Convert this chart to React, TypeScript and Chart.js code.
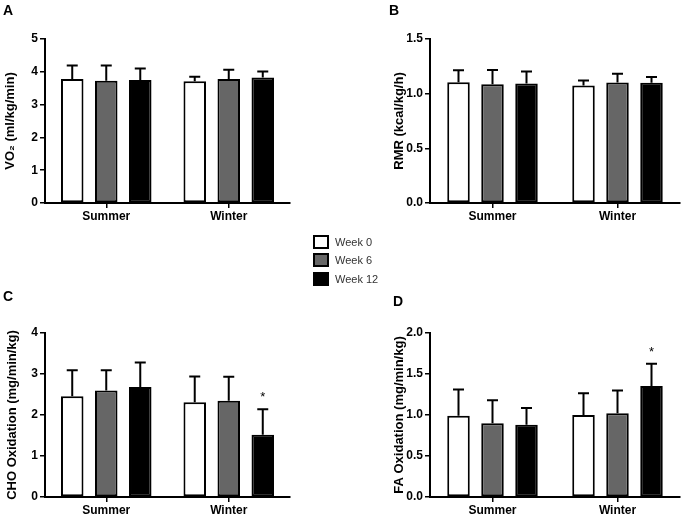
import React, { useEffect, useRef } from "react";
import { Chart, registerables } from "chart.js";

Chart.register(...registerables);

// ---------- data ----------
const categories = ["Summer", "Winter"];
const seriesNames = ["Week 0", "Week 6", "Week 12"];
const seriesColors = ["#ffffff", "#666666", "#000000"];

// Panel A: VO2 (ml/kg/min)
const vo2Week0 = [3.78, 3.71];
const vo2Week6 = [3.73, 3.78];
const vo2Week12 = [3.75, 3.83];
const vo2ErrWeek0 = [0.41, 0.14];
const vo2ErrWeek6 = [0.46, 0.28];
const vo2ErrWeek12 = [0.35, 0.18];

// Panel B: RMR (kcal/kg/h)
const rmrWeek0 = [1.105, 1.075];
const rmrWeek6 = [1.087, 1.102];
const rmrWeek12 = [1.093, 1.099];
const rmrErrWeek0 = [0.11, 0.045];
const rmrErrWeek6 = [0.13, 0.08];
const rmrErrWeek12 = [0.11, 0.053];

// Panel C: CHO Oxidation (mg/min/kg)
const choWeek0 = [2.46, 2.31];
const choWeek6 = [2.6, 2.35];
const choWeek12 = [2.68, 1.52];
const choErrWeek0 = [0.63, 0.63];
const choErrWeek6 = [0.49, 0.58];
const choErrWeek12 = [0.6, 0.62];
const choStarsWeek12 = [false, true];

// Panel D: FA Oxidation (mg/min/kg)
const faWeek0 = [0.99, 1.0];
const faWeek6 = [0.9, 1.02];
const faWeek12 = [0.88, 1.355];
const faErrWeek0 = [0.32, 0.265];
const faErrWeek6 = [0.28, 0.28];
const faErrWeek12 = [0.205, 0.27];
const faStarsWeek12 = [false, true];

const noStars = [false, false];

const FONT = 'Arial, "Liberation Sans", Helvetica, sans-serif';

// ---------- plugins ----------
const errorBarPlugin = {
  id: "errorBars",
  afterDatasetsDraw(chart: any) {
    const { ctx } = chart;
    const yScale = chart.scales.y;
    chart.data.datasets.forEach((ds: any, di: number) => {
      const meta = chart.getDatasetMeta(di);
      meta.data.forEach((bar: any, i: number) => {
        const v = ds.data[i];
        const e = ds.errors[i];
        const x = bar.x;
        const y0 = yScale.getPixelForValue(v);
        const y1 = yScale.getPixelForValue(v + e);
        ctx.save();
        ctx.strokeStyle = "#000";
        ctx.lineWidth = 2;
        ctx.beginPath();
        ctx.moveTo(x, y0);
        ctx.lineTo(x, y1);
        ctx.moveTo(x - 5.5, y1);
        ctx.lineTo(x + 5.5, y1);
        ctx.stroke();
        if (ds.stars && ds.stars[i]) {
          ctx.fillStyle = "#000";
          ctx.font = `13px ${FONT}`;
          ctx.textAlign = "center";
          ctx.textBaseline = "alphabetic";
          ctx.fillText("*", x, y1 - 8);
        }
        ctx.restore();
      });
    });
  },
};

const makeLetterPlugin = (text: string, x: number, y: number) => ({
  id: "panelLetter",
  afterDraw(chart: any) {
    const { ctx } = chart;
    ctx.save();
    ctx.fillStyle = "#000";
    ctx.font = `bold 14px ${FONT}`;
    ctx.textAlign = "left";
    ctx.textBaseline = "alphabetic";
    ctx.fillText(text, x, y);
    ctx.restore();
  },
});

type PanelProps = {
  left: number;
  top: number;
  width: number;
  height: number;
  areaLeft: number;
  areaRight: number;
  areaTop: number;
  areaBottom: number;
  titlePad: number;
  letter: string;
  letterX: number;
  letterY: number;
  yTitle: string;
  yMax: number;
  yStep: number;
  decimals: number;
  catPct: number;
  values: number[][];
  errors: number[][];
  stars: boolean[][];
};

function Panel(p: PanelProps) {
  const ref = useRef<HTMLCanvasElement | null>(null);
  useEffect(() => {
    if (!ref.current) return;
    const chart = new Chart(ref.current, {
      type: "bar",
      data: {
        labels: categories,
        datasets: seriesNames.map((name, k) => ({
          label: name,
          data: p.values[k],
          errors: p.errors[k],
          stars: p.stars[k],
          backgroundColor: seriesColors[k],
          borderColor: "#000",
          borderWidth: 2,
          borderSkipped: false,
          categoryPercentage: p.catPct,
          barPercentage: 0.662,
        })) as any,
      },
      options: {
        animation: false,
        responsive: false,
        devicePixelRatio: 1,
        layout: {
          padding: {
            top: p.areaTop,
            right: p.width - p.areaRight,
            left: 0,
            bottom: 0,
          },
        },
        plugins: {
          legend: { display: false },
          tooltip: { enabled: false },
        },
        scales: {
          x: {
            type: "category",
            offset: true,
            grid: {
              display: true,
              drawOnChartArea: false,
              drawTicks: true,
              tickLength: 5,
              offset: false,
              color: "#000",
              lineWidth: 1.5,
            },
            border: { display: true, color: "#000", width: 2 },
            ticks: {
              color: "#000",
              padding: 1,
              font: { family: FONT, size: 12, weight: "bold" },
              maxRotation: 0,
            },
            afterFit: (scale: any) => {
              scale.height = p.height - p.areaBottom;
            },
          },
          y: {
            min: 0,
            max: p.yMax,
            grid: {
              display: true,
              drawOnChartArea: false,
              drawTicks: true,
              tickLength: 5,
              color: "#000",
              lineWidth: 1.5,
            },
            border: { display: true, color: "#000", width: 2 },
            ticks: {
              stepSize: p.yStep,
              color: "#000",
              padding: 2,
              font: { family: FONT, size: 12, weight: "bold" },
              callback: (v: any) => Number(v).toFixed(p.decimals),
            },
            title: {
              display: true,
              text: p.yTitle,
              color: "#000",
              font: { family: FONT, size: 13, weight: "bold" },
              padding: { top: p.titlePad, bottom: 0 },
            },
            afterFit: (scale: any) => {
              scale.width = p.areaLeft;
            },
          },
        },
      } as any,
      plugins: [errorBarPlugin, makeLetterPlugin(p.letter, p.letterX, p.letterY)],
    });
    return () => chart.destroy();
  }, []);
  return (
    <canvas
      ref={ref}
      width={p.width}
      height={p.height}
      style={{
        position: "absolute",
        left: p.left,
        top: p.top,
        width: p.width,
        height: p.height,
        display: "block",
      }}
    />
  );
}

function LegendBox({ color, label, top }: { color: string; label: string; top: number }) {
  return (
    <div style={{ position: "absolute", left: 313, top, height: 14, display: "flex", alignItems: "center" }}>
      <div
        style={{
          width: 16,
          height: 14,
          boxSizing: "border-box",
          border: "2px solid #000",
          background: color,
        }}
      />
      <span
        style={{
          marginLeft: 6,
          fontFamily: FONT,
          fontSize: 11,
          color: "#333",
          lineHeight: "14px",
          whiteSpace: "nowrap",
        }}
      >
        {label}
      </span>
    </div>
  );
}

export default function App() {
  return (
    <div
      style={{
        position: "absolute",
        left: 0,
        top: 0,
        width: 686,
        height: 517,
        background: "#fff",
        overflow: "hidden",
      }}
    >
      <Panel
        left={0}
        top={0}
        width={343}
        height={230}
        areaLeft={45}
        areaRight={290}
        areaTop={39}
        areaBottom={203}
        titlePad={3}
        letter="A"
        letterX={3}
        letterY={15}
        yTitle="VO₂ (ml/kg/min)"
        yMax={5}
        yStep={1}
        decimals={0}
        catPct={0.833}
        values={[vo2Week0, vo2Week6, vo2Week12]}
        errors={[vo2ErrWeek0, vo2ErrWeek6, vo2ErrWeek12]}
        stars={[noStars, noStars, noStars]}
      />
      <Panel
        left={343}
        top={0}
        width={343}
        height={230}
        areaLeft={87}
        areaRight={337}
        areaTop={39}
        areaBottom={203}
        titlePad={49}
        letter="B"
        letterX={46}
        letterY={15}
        yTitle="RMR (kcal/kg/h)"
        yMax={1.5}
        yStep={0.5}
        decimals={1}
        catPct={0.816}
        values={[rmrWeek0, rmrWeek6, rmrWeek12]}
        errors={[rmrErrWeek0, rmrErrWeek6, rmrErrWeek12]}
        stars={[noStars, noStars, noStars]}
      />
      <Panel
        left={0}
        top={240}
        width={343}
        height={277}
        areaLeft={45}
        areaRight={290}
        areaTop={93}
        areaBottom={257}
        titlePad={4.5}
        letter="C"
        letterX={3}
        letterY={61}
        yTitle="CHO Oxidation (mg/min/kg)"
        yMax={4}
        yStep={1}
        decimals={0}
        catPct={0.833}
        values={[choWeek0, choWeek6, choWeek12]}
        errors={[choErrWeek0, choErrWeek6, choErrWeek12]}
        stars={[noStars, noStars, choStarsWeek12]}
      />
      <Panel
        left={343}
        top={240}
        width={343}
        height={277}
        areaLeft={87}
        areaRight={337}
        areaTop={93}
        areaBottom={257}
        titlePad={49}
        letter="D"
        letterX={50}
        letterY={66}
        yTitle="FA Oxidation (mg/min/kg)"
        yMax={2}
        yStep={0.5}
        decimals={1}
        catPct={0.816}
        values={[faWeek0, faWeek6, faWeek12]}
        errors={[faErrWeek0, faErrWeek6, faErrWeek12]}
        stars={[noStars, noStars, faStarsWeek12]}
      />
      <LegendBox color={seriesColors[0]} label={seriesNames[0]} top={235} />
      <LegendBox color={seriesColors[1]} label={seriesNames[1]} top={253} />
      <LegendBox color={seriesColors[2]} label={seriesNames[2]} top={272} />
    </div>
  );
}
